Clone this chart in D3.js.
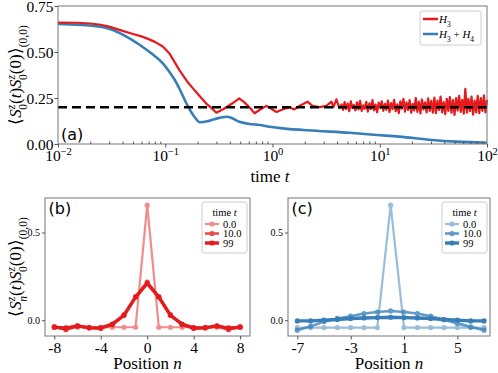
<!DOCTYPE html>
<html>
<head>
<meta charset="utf-8">
<script src="https://cdn.jsdelivr.net/npm/d3@7"></script>
<style>
  body { margin: 0; background: #fff; }
  svg { display: block; }
</style>
</head>
<body>
<div id="chart"></div>
<script>
const width = 498;
const height = 373;

const red = "#e41a1c";
const blue = "#377eb8";
const SERIF = "Liberation Serif";
const SANS = "DejaVu Sans";

// panel (a): autocorrelation vs time
const redTime = [0.01, 0.015, 0.02, 0.025, 0.03, 0.04, 0.05, 0.06, 0.07, 0.08, 0.095, 0.11, 0.136, 0.16, 0.187, 0.21, 0.24, 0.27, 0.30, 0.35, 0.42, 0.49, 0.55, 0.61, 0.68, 0.78, 0.88, 1.09, 1.24, 1.44, 1.6, 1.78, 2.12, 2.36, 2.74, 3.18, 3.54, 3.7, 3.94, 4.2];
const redEarly = [0.66, 0.659, 0.655, 0.648, 0.638, 0.615, 0.598, 0.585, 0.57, 0.555, 0.53, 0.49, 0.40, 0.34, 0.293, 0.26, 0.221, 0.195, 0.17, 0.19, 0.22, 0.248, 0.225, 0.20, 0.167, 0.19, 0.207, 0.174, 0.188, 0.2, 0.188, 0.207, 0.23, 0.207, 0.2, 0.207, 0.23, 0.2, 0.243, 0.195];
// late-time fluctuations, sampled on a log grid from t = 4.4 to 100
const redLate = [
  0.215, 0.185, 0.228, 0.19, 0.22, 0.178, 0.232, 0.195, 0.212, 0.183,
  0.226, 0.188, 0.235, 0.18, 0.21, 0.192, 0.229, 0.176, 0.221, 0.19,
  0.238, 0.183, 0.214, 0.172, 0.225, 0.196, 0.232, 0.18, 0.218, 0.186,
  0.236, 0.174, 0.222, 0.19, 0.24, 0.178, 0.215, 0.168, 0.232, 0.192,
  0.245, 0.176, 0.226, 0.185, 0.238, 0.17, 0.218, 0.182, 0.25, 0.175,
  0.23, 0.166, 0.242, 0.188, 0.226, 0.172, 0.248, 0.18, 0.234, 0.17,
  0.252, 0.168, 0.236, 0.185, 0.258, 0.172, 0.228, 0.162, 0.246, 0.18,
  0.255, 0.17, 0.238, 0.158, 0.25, 0.182, 0.262, 0.175, 0.24, 0.165,
  0.3, 0.17, 0.245, 0.178, 0.258, 0.16, 0.236, 0.172, 0.262, 0.168,
  0.25, 0.18, 0.265, 0.172, 0.24
];
const blueTime = [0.01, 0.0246, 0.0305, 0.041, 0.058, 0.075, 0.095, 0.11, 0.128, 0.145, 0.162, 0.187, 0.21, 0.26, 0.32, 0.38, 0.49, 0.61, 0.76, 0.94, 1.24, 2.55, 5.2, 9.4, 15.2, 30.6, 51.5, 100];
const blueValues = [0.652, 0.638, 0.625, 0.592, 0.538, 0.49, 0.438, 0.39, 0.33, 0.265, 0.207, 0.148, 0.118, 0.127, 0.142, 0.148, 0.121, 0.109, 0.103, 0.094, 0.085, 0.072, 0.061, 0.049, 0.04, 0.022, 0.013, 0.007];
const plateau = 0.2;

// panels (b) and (c): profiles vs position
const timeLabels = ["0.0", "10.0", "99"];
const posB = d3.range(-8, 9);
const redProfiles = [
  [-0.04, -0.04, -0.04, -0.04, -0.04, -0.04, -0.04, -0.04, 0.656, -0.04, -0.04, -0.04, -0.04, -0.04, -0.04, -0.04, -0.04],
  [-0.036, -0.054, -0.034, -0.045, -0.047, -0.026, 0.032, 0.135, 0.218, 0.135, 0.032, -0.026, -0.047, -0.045, -0.034, -0.054, -0.036],
  [-0.04, -0.046, -0.032, -0.042, -0.044, -0.022, 0.028, 0.132, 0.21, 0.132, 0.028, -0.022, -0.044, -0.042, -0.032, -0.046, -0.04]
];
const posC = d3.range(-7, 8);
const blueProfiles = [
  [-0.042, -0.042, -0.042, -0.042, -0.042, -0.042, -0.042, 0.656, -0.042, -0.042, -0.042, -0.042, -0.042, -0.042, -0.042],
  [-0.057, -0.035, -0.008, 0.01, 0.023, 0.038, 0.047, 0.053, 0.047, 0.038, 0.023, 0.003, -0.018, -0.038, -0.057],
  [-0.004, -0.004, 0.0, 0.004, 0.01, 0.013, 0.015, 0.017, 0.015, 0.013, 0.01, 0.004, 0.0, -0.004, -0.004]
];
const profileAlpha = [0.5, 0.78, 1];
const profileWidth = [2.2, 2.6, 3.4];

const svg = d3.select("#chart").append("svg")
  .attr("width", width).attr("height", height);

// rich text: pieces of {t, i (italic), s (shift: -1 sup, 1 sub), dx}
function richText(sel, pieces, size) {
  sel.attr("font-family", SERIF).attr("font-size", size).attr("fill", "#000");
  let cur = 0;
  pieces.forEach((p) => {
    const shift = p.s || 0;
    const dy = (shift - cur) * size * 0.38;
    const ts = sel.append("tspan").text(p.t)
      .attr("dy", dy)
      .attr("font-size", shift ? size * 0.68 : size)
      .attr("font-style", p.i ? "italic" : "normal");
    if (p.dx) ts.attr("dx", p.dx);
    cur = shift;
  });
  return sel;
}

function frame(g, r) {
  g.append("rect").attr("x", r.l).attr("y", r.t)
    .attr("width", r.r - r.l).attr("height", r.b - r.t)
    .attr("fill", "none").attr("stroke", "#777").attr("stroke-width", 1);
}

function styleAxis(g) {
  g.select(".domain").remove();
  g.selectAll(".tick line").attr("stroke", "#555");
}

// ---------- panel (a) ----------
const A = { l: 58, r: 487, t: 6, b: 144 };
const xa = d3.scaleLog().domain([0.01, 100]).range([A.l, A.r]);
const ya = d3.scaleLinear().domain([0, 0.75]).range([A.b, A.t]);
const ga = svg.append("g");

const lateTime = d3.range(redLate.length).map((i) => 4.4 * Math.pow(100 / 4.4, i / (redLate.length - 1)));
const redSeries = redTime.map((t, i) => [t, redEarly[i]])
  .concat(lateTime.map((t, i) => [t, redLate[i]]));
const blueSeries = blueTime.map((t, i) => [t, blueValues[i]]);

const lineA = d3.line().x((d) => xa(d[0])).y((d) => ya(d[1]));
const lineASmooth = d3.line().curve(d3.curveMonotoneX).x((d) => xa(d[0])).y((d) => ya(d[1]));

ga.append("path").datum(blueSeries).attr("d", lineASmooth)
  .attr("fill", "none").attr("stroke", blue).attr("stroke-width", 2.6);
ga.append("path").datum(redSeries).attr("d", lineA)
  .attr("fill", "none").attr("stroke", red).attr("stroke-width", 2.2)
  .attr("stroke-linejoin", "round");
ga.append("line")
  .attr("x1", xa(0.01)).attr("x2", xa(100))
  .attr("y1", ya(plateau)).attr("y2", ya(plateau))
  .attr("stroke", "#000").attr("stroke-width", 2.5).attr("stroke-dasharray", "9,5");

frame(ga, A);

const minorA = [];
[0.01, 0.1, 1, 10].forEach((d) => { for (let k = 2; k <= 9; k++) minorA.push(d * k); });
ga.append("g").attr("transform", `translate(0,${A.b})`)
  .call(d3.axisBottom(xa).tickValues(minorA).tickFormat("").tickSize(-2.5))
  .call(styleAxis);
const xaAxis = ga.append("g").attr("transform", `translate(0,${A.b})`)
  .call(d3.axisBottom(xa).tickValues([0.01, 0.1, 1, 10, 100]).tickFormat("").tickSize(3.5))
  .call(styleAxis);
xaAxis.selectAll(".tick").each(function (d) {
  const e = Math.round(Math.log10(d));
  const t = d3.select(this).append("text")
    .attr("y", 17).attr("text-anchor", "middle");
  richText(t, [{ t: "10" }, { t: e < 0 ? "\u2212" + (-e) : String(e), s: -1 }], 15.5);
});

ga.append("g").attr("transform", `translate(${A.l},0)`)
  .call(d3.axisLeft(ya).tickValues([0, 0.25, 0.5, 0.75]).tickFormat(d3.format(".2f")).tickSize(3.5).tickPadding(1))
  .call(styleAxis)
  .call((g) => g.selectAll("text").attr("font-family", SERIF).attr("font-size", 15.5).attr("fill", "#000").attr("dy", "0.35em"));

richText(svg.append("text")
  .attr("x", 270).attr("y", 182).attr("text-anchor", "middle"),
  [{ t: "time " }, { t: "t", i: true }], 17);

richText(svg.append("text")
  .attr("transform", `translate(21,${(A.t + A.b) / 2}) rotate(-90)`).attr("text-anchor", "middle"),
  [{ t: "\u27e8" }, { t: "S", i: true }, { t: "z", i: true, s: -1 }, { t: "0", s: 1, dx: -5 },
   { t: "(" }, { t: "t", i: true }, { t: ")" }, { t: "S", i: true }, { t: "z", i: true, s: -1 }, { t: "0", s: 1, dx: -5 },
   { t: "(0)\u27e9" }, { t: "(0,0)", s: 1 }], 17);

svg.append("text").attr("font-family", SANS).attr("x", 61).attr("y", 140)
  .attr("font-size", 16).text("(a)");

// legend (a)
const legA = svg.append("g");
legA.append("rect").attr("x", 420).attr("y", 11).attr("width", 61).attr("height", 34)
  .attr("rx", 2.5).attr("fill", "#fff").attr("fill-opacity", 0.8).attr("stroke", "#ccc");
[[red, [{ t: "H", i: true }, { t: "3", s: 1 }]],
 [blue, [{ t: "H", i: true }, { t: "3", s: 1 }, { t: " + " }, { t: "H", i: true }, { t: "4", s: 1 }]]]
  .forEach(([c, txt], i) => {
    const yy = 19 + i * 15;
    legA.append("line").attr("x1", 423).attr("x2", 438).attr("y1", yy).attr("y2", yy)
      .attr("stroke", c).attr("stroke-width", 2.5);
    richText(legA.append("text").attr("x", 439).attr("y", yy + 3.5), txt, 11);
  });

// ---------- panels (b) and (c) ----------
function profilePanel(r, pos, profiles, color, xdom, ydom, xticks, label, withYLabel) {
  const x = d3.scaleLinear().domain(xdom).range([r.l, r.r]);
  const y = d3.scaleLinear().domain(ydom).range([r.b, r.t]);
  const g = svg.append("g");
  const line = d3.line().x((d) => x(d[0])).y((d) => y(d[1]));

  profiles.forEach((vals, k) => {
    const pts = pos.map((n, i) => [n, vals[i]]);
    const s = g.append("g").attr("opacity", profileAlpha[k]);
    s.append("path").datum(pts).attr("d", line)
      .attr("fill", "none").attr("stroke", color).attr("stroke-width", profileWidth[k])
      .attr("stroke-linejoin", "round");
    s.selectAll("circle").data(pts).join("circle")
      .attr("cx", (d) => x(d[0])).attr("cy", (d) => y(d[1])).attr("r", 2.6).attr("fill", color);
  });

  frame(g, r);

  g.append("g").attr("transform", `translate(0,${r.b})`)
    .call(d3.axisBottom(x).tickValues(xticks).tickFormat((d) => d < 0 ? "-" + (-d) : d).tickSize(3.5).tickPadding(2))
    .call(styleAxis)
    .call((a) => a.selectAll("text").attr("font-family", SERIF).attr("font-size", 15.5).attr("fill", "#000"));
  g.append("g").attr("transform", `translate(${r.l},0)`)
    .call(d3.axisLeft(y).tickValues([0, 0.5]).tickFormat(d3.format(".1f")).tickSize(3).tickPadding(2))
    .call(styleAxis)
    .call((a) => a.selectAll("text").attr("font-family", SERIF).attr("font-size", 10).attr("fill", "#000"));

  richText(svg.append("text")
    .attr("x", (r.l + r.r) / 2).attr("y", 369).attr("text-anchor", "middle"),
    [{ t: "Position " }, { t: "n", i: true }], 17);

  svg.append("text").attr("font-family", SANS).attr("x", r.l + 3.5).attr("y", r.t + 16)
    .attr("font-size", 16).text(label);

  // legend
  const lx = r.r - 48, ly = r.t + 4;
  const leg = svg.append("g");
  leg.append("rect").attr("x", lx).attr("y", ly).attr("width", 45).attr("height", 51)
    .attr("rx", 2.5).attr("fill", "#fff").attr("fill-opacity", 0.8).attr("stroke", "#ccc");
  richText(leg.append("text").attr("x", lx + 22.5).attr("y", ly + 14)
    .attr("text-anchor", "middle"), [{ t: "time " }, { t: "t", i: true }], 10.5);
  timeLabels.forEach((lab, k) => {
    const yy = ly + 22 + k * 9.5;
    const e = leg.append("g").attr("opacity", profileAlpha[k]);
    e.append("line").attr("x1", lx + 3).attr("x2", lx + 17).attr("y1", yy).attr("y2", yy)
      .attr("stroke", color).attr("stroke-width", profileWidth[k]);
    e.append("circle").attr("cx", lx + 10).attr("cy", yy).attr("r", 2.6).attr("fill", color);
    leg.append("text").attr("font-family", SERIF).attr("x", lx + 21).attr("y", yy + 3.5)
      .attr("font-size", 10.5).text(lab);
  });

  if (withYLabel) {
    richText(svg.append("text")
      .attr("transform", `translate(21,${(r.t + r.b) / 2}) rotate(-90)`).attr("text-anchor", "middle"),
      [{ t: "\u27e8" }, { t: "S", i: true }, { t: "z", i: true, s: -1 }, { t: "n", i: true, s: 1, dx: -5 },
       { t: "(" }, { t: "t", i: true }, { t: ")" }, { t: "S", i: true }, { t: "z", i: true, s: -1 }, { t: "0", s: 1, dx: -5 },
       { t: "(0)\u27e9" }, { t: "(0,0)", s: 1 }], 17);
  }
}

profilePanel({ l: 45, r: 250, t: 198, b: 336 }, posB, redProfiles, red,
  [-8.8, 8.85], [-0.09, 0.697], [-8, -4, 0, 4, 8], "(b)", true);
profilePanel({ l: 288, r: 490, t: 198, b: 336 }, posC, blueProfiles, blue,
  [-7.7, 7.45], [-0.09, 0.697], [-7, -3, 1, 5], "(c)", false);
</script>
</body>
</html>
